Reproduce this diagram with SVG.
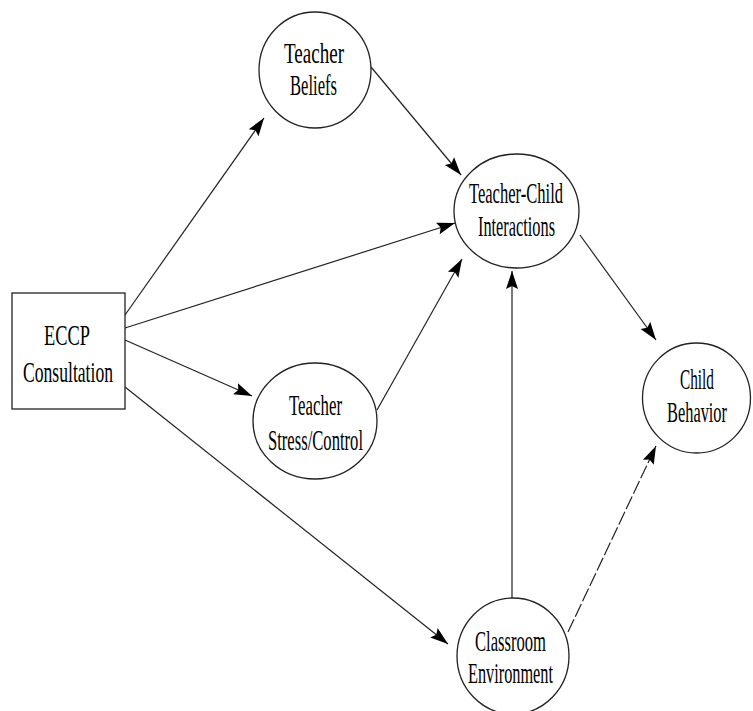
<svg xmlns="http://www.w3.org/2000/svg" width="753" height="711" viewBox="0 0 753 711">
<style>
.n{fill:#fff;stroke:#222;stroke-width:1.3}
.t{font-family:"Liberation Serif","Times New Roman",serif;font-size:29px;fill:#000;text-anchor:middle}
.c{fill:none;stroke:#222;stroke-width:1.2}
.d{stroke-dasharray:14 3}
</style>
<defs>
<marker id="a" markerUnits="userSpaceOnUse" markerWidth="20" markerHeight="14" refX="18" refY="7" orient="auto">
<path d="M0,1 L18,7 L0,13 L3,7 z" fill="#000"/>
</marker>
</defs>
<rect width="753" height="711" fill="#fff"/>
<g id="connectors">
<line class="c" x1="125" y1="315" x2="264" y2="118" marker-end="url(#a)"/>
<line class="c" x1="125" y1="328" x2="455" y2="223" marker-end="url(#a)"/>
<line class="c" x1="125" y1="340" x2="252" y2="396" marker-end="url(#a)"/>
<line class="c" x1="125" y1="387" x2="448" y2="644" marker-end="url(#a)"/>
<line class="c" x1="377" y1="410" x2="462" y2="259" marker-end="url(#a)"/>
<line class="c" x1="371" y1="67" x2="461" y2="175" marker-end="url(#a)"/>
<line class="c" x1="580" y1="235" x2="656" y2="340" marker-end="url(#a)"/>
<line class="c" x1="512" y1="598" x2="512" y2="271" marker-end="url(#a)"/>
<line class="c d" x1="568" y1="632" x2="656" y2="446" marker-end="url(#a)"/>
</g>
<g id="eccp">
<rect class="n" x="12" y="293" width="113" height="116"/>
<text class="t" x="67" y="345" textLength="46" lengthAdjust="spacingAndGlyphs">ECCP</text>
<text class="t" x="68" y="382" textLength="90" lengthAdjust="spacingAndGlyphs">Consultation</text>
</g>
<g id="beliefs">
<ellipse class="n" cx="315" cy="70" rx="56" ry="58"/>
<text class="t" x="314" y="63" textLength="60" lengthAdjust="spacingAndGlyphs">Teacher</text>
<text class="t" x="313.5" y="95" textLength="47" lengthAdjust="spacingAndGlyphs">Beliefs</text>
</g>
<g id="interactions">
<ellipse class="n" cx="516.5" cy="211" rx="62.5" ry="57"/>
<text class="t" x="516" y="203" textLength="94" lengthAdjust="spacingAndGlyphs">Teacher-Child</text>
<text class="t" x="516.5" y="236" textLength="77" lengthAdjust="spacingAndGlyphs">Interactions</text>
</g>
<g id="stress">
<ellipse class="n" cx="315" cy="421" rx="62" ry="58"/>
<text class="t" x="315.5" y="415" textLength="53" lengthAdjust="spacingAndGlyphs">Teacher</text>
<text class="t" x="315.5" y="450" textLength="95" lengthAdjust="spacingAndGlyphs">Stress/Control</text>
</g>
<g id="child">
<ellipse class="n" cx="696.5" cy="398" rx="54" ry="55"/>
<text class="t" transform="translate(697,389) scale(0.56,1)" textLength="60.7" lengthAdjust="spacingAndGlyphs">Child</text>
<text class="t" transform="translate(697,422) scale(0.56,1)" textLength="107" lengthAdjust="spacingAndGlyphs">Behavior</text>
</g>
<g id="classroom">
<ellipse class="n" cx="513" cy="656" rx="56" ry="58"/>
<text class="t" x="510.5" y="651" textLength="71" lengthAdjust="spacingAndGlyphs">Classroom</text>
<text class="t" x="510.5" y="683" textLength="85" lengthAdjust="spacingAndGlyphs">Environment</text>
</g>
</svg>
